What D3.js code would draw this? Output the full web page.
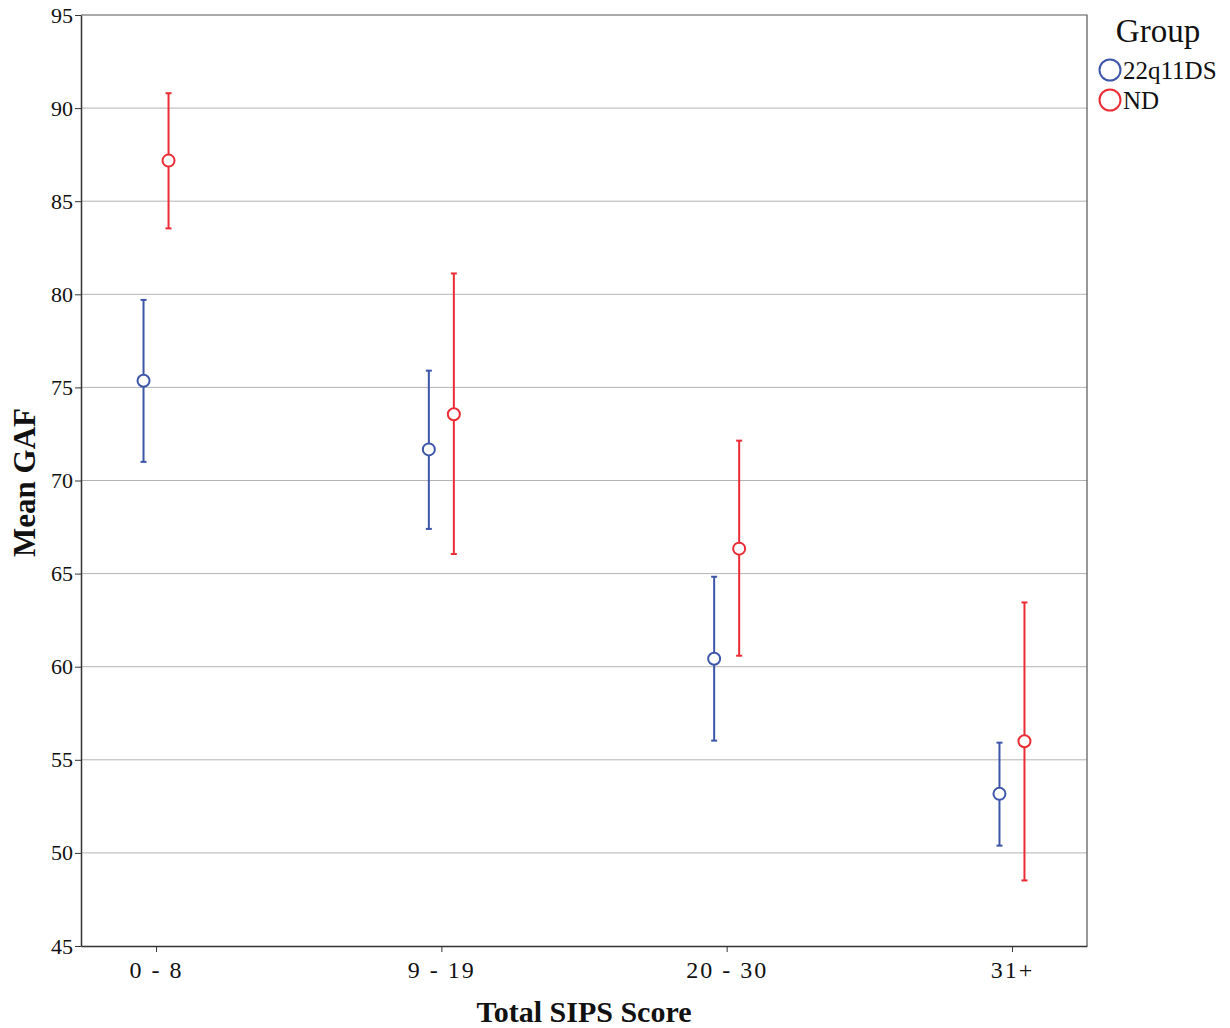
<!DOCTYPE html>
<html lang="en">
<head>
    <meta charset="UTF-8">
    <title>Mean GAF by Total SIPS Score</title>
    <script src="https://d3js.org/d3.v7.min.js"></script>
    <style>
        body { margin: 0; background: #fff; }
        text { font-family: "Liberation Serif", "DejaVu Serif", serif; fill: #111; }
        .grid line { stroke: #b4b4b4; stroke-width: 1px; }
        .axis path, .axis line { stroke: #333; }
    </style>
</head>
<body>
<script>
    // categories and series
    const categories = ['0 - 8', '9 - 19', '20 - 30', '31+'];
    const groups = ['22q11DS', 'ND'];
    const colors = ['#3d56aa', '#eb2c35'];

    // mean and error bar ends, one array per group
    const mean22q = [75.36, 71.67, 60.43, 53.17];
    const low22q  = [71.0, 67.4, 56.03, 50.39];
    const high22q = [79.7, 75.9, 64.83, 55.92];

    const meanND = [87.18, 73.56, 66.34, 56.0];
    const lowND  = [83.54, 66.05, 60.59, 48.52];
    const highND = [90.8, 81.12, 72.14, 63.45];

    const yTicks = [45, 50, 55, 60, 65, 70, 75, 80, 85, 90, 95];

    const width = 1230, height = 1028;
    const margin = {left: 81, right: 143, top: 15, bottom: 82};

    const svg = d3.select('body').append('svg')
        .attr('width', width).attr('height', height);

    const x = d3.scalePoint()
        .domain(categories)
        .range([margin.left, width - margin.right])
        .padding(0.263);
    const dodge = d3.scalePoint()
        .domain(groups)
        .range([-12.5, 12.5]);
    const y = d3.scaleLinear()
        .domain([45, 95])
        .range([height - margin.bottom, margin.top]);

    // grid lines
    svg.append('g').attr('class', 'grid')
        .selectAll('line')
        .data(yTicks.slice(1, -1))
        .enter().append('line')
        .attr('x1', margin.left).attr('x2', width - margin.right)
        .attr('y1', d => y(d)).attr('y2', d => y(d));

    // frame top and right
    svg.append('path')
        .attr('d', `M${margin.left},${y(95)}H${width - margin.right}V${y(45)}`)
        .attr('fill', 'none').attr('stroke', '#555').attr('stroke-width', 1.2);

    // axes
    const yAxis = svg.append('g').attr('class', 'axis')
        .attr('transform', `translate(${margin.left},0)`)
        .call(d3.axisLeft(y).tickValues(yTicks).tickSize(6).tickSizeOuter(0).tickPadding(2));
    yAxis.selectAll('text').style('font-size', '22px');
    yAxis.select('.domain').attr('stroke-width', 1.5);

    const xAxis = svg.append('g').attr('class', 'axis')
        .attr('transform', `translate(0,${y(45)})`)
        .call(d3.axisBottom(x).tickSize(6).tickSizeOuter(0).tickPadding(6));
    xAxis.selectAll('text').style('font-size', '24px').style('letter-spacing', '2px')
        .attr('dy', '0.85em');
    xAxis.select('.domain').attr('stroke-width', 1.5);

    // error bars and means
    const series = [
        {name: groups[0], color: colors[0], mean: mean22q, low: low22q, high: high22q},
        {name: groups[1], color: colors[1], mean: meanND, low: lowND, high: highND}
    ];

    series.forEach(s => {
        const g = svg.append('g');
        const rows = categories.map((c, i) => ({cat: c, m: s.mean[i], lo: s.low[i], hi: s.high[i]}));
        const cx = d => x(d.cat) + dodge(s.name);

        g.selectAll('line.bar').data(rows).enter().append('line')
            .attr('x1', cx).attr('x2', cx)
            .attr('y1', d => y(d.lo)).attr('y2', d => y(d.hi))
            .attr('stroke', s.color).attr('stroke-width', 2);

        ['lo', 'hi'].forEach(k => {
            g.selectAll('line.cap-' + k).data(rows).enter().append('line')
                .attr('x1', d => cx(d) - 3).attr('x2', d => cx(d) + 3)
                .attr('y1', d => y(d[k])).attr('y2', d => y(d[k]))
                .attr('stroke', s.color).attr('stroke-width', 2);
        });

        g.selectAll('circle').data(rows).enter().append('circle')
            .attr('cx', cx).attr('cy', d => y(d.m)).attr('r', 6)
            .attr('fill', '#fff').attr('stroke', s.color).attr('stroke-width', 2);
    });

    // axis titles
    svg.append('text')
        .attr('x', (margin.left + width - margin.right) / 2).attr('y', 1022)
        .attr('text-anchor', 'middle')
        .style('font-size', '30px').style('font-weight', 'bold')
        .text('Total SIPS Score');

    svg.append('text')
        .attr('transform', `translate(35,${(y(45) + y(95)) / 2 + 2}) rotate(-90)`)
        .attr('text-anchor', 'middle')
        .style('font-size', '31px').style('font-weight', 'bold')
        .text('Mean GAF');

    // legend
    const legend = svg.append('g');
    legend.append('text')
        .attr('x', 1158).attr('y', 42)
        .attr('text-anchor', 'middle')
        .style('font-size', '33px')
        .text('Group');
    groups.forEach((name, i) => {
        const ly = 70 + i * 30;
        legend.append('circle')
            .attr('cx', 1110).attr('cy', ly).attr('r', 10.5)
            .attr('fill', 'none').attr('stroke', colors[i]).attr('stroke-width', 2);
        legend.append('text')
            .attr('x', 1123).attr('y', ly + 9)
            .style('font-size', '25px')
            .text(name);
    });
</script>
</body>
</html>
